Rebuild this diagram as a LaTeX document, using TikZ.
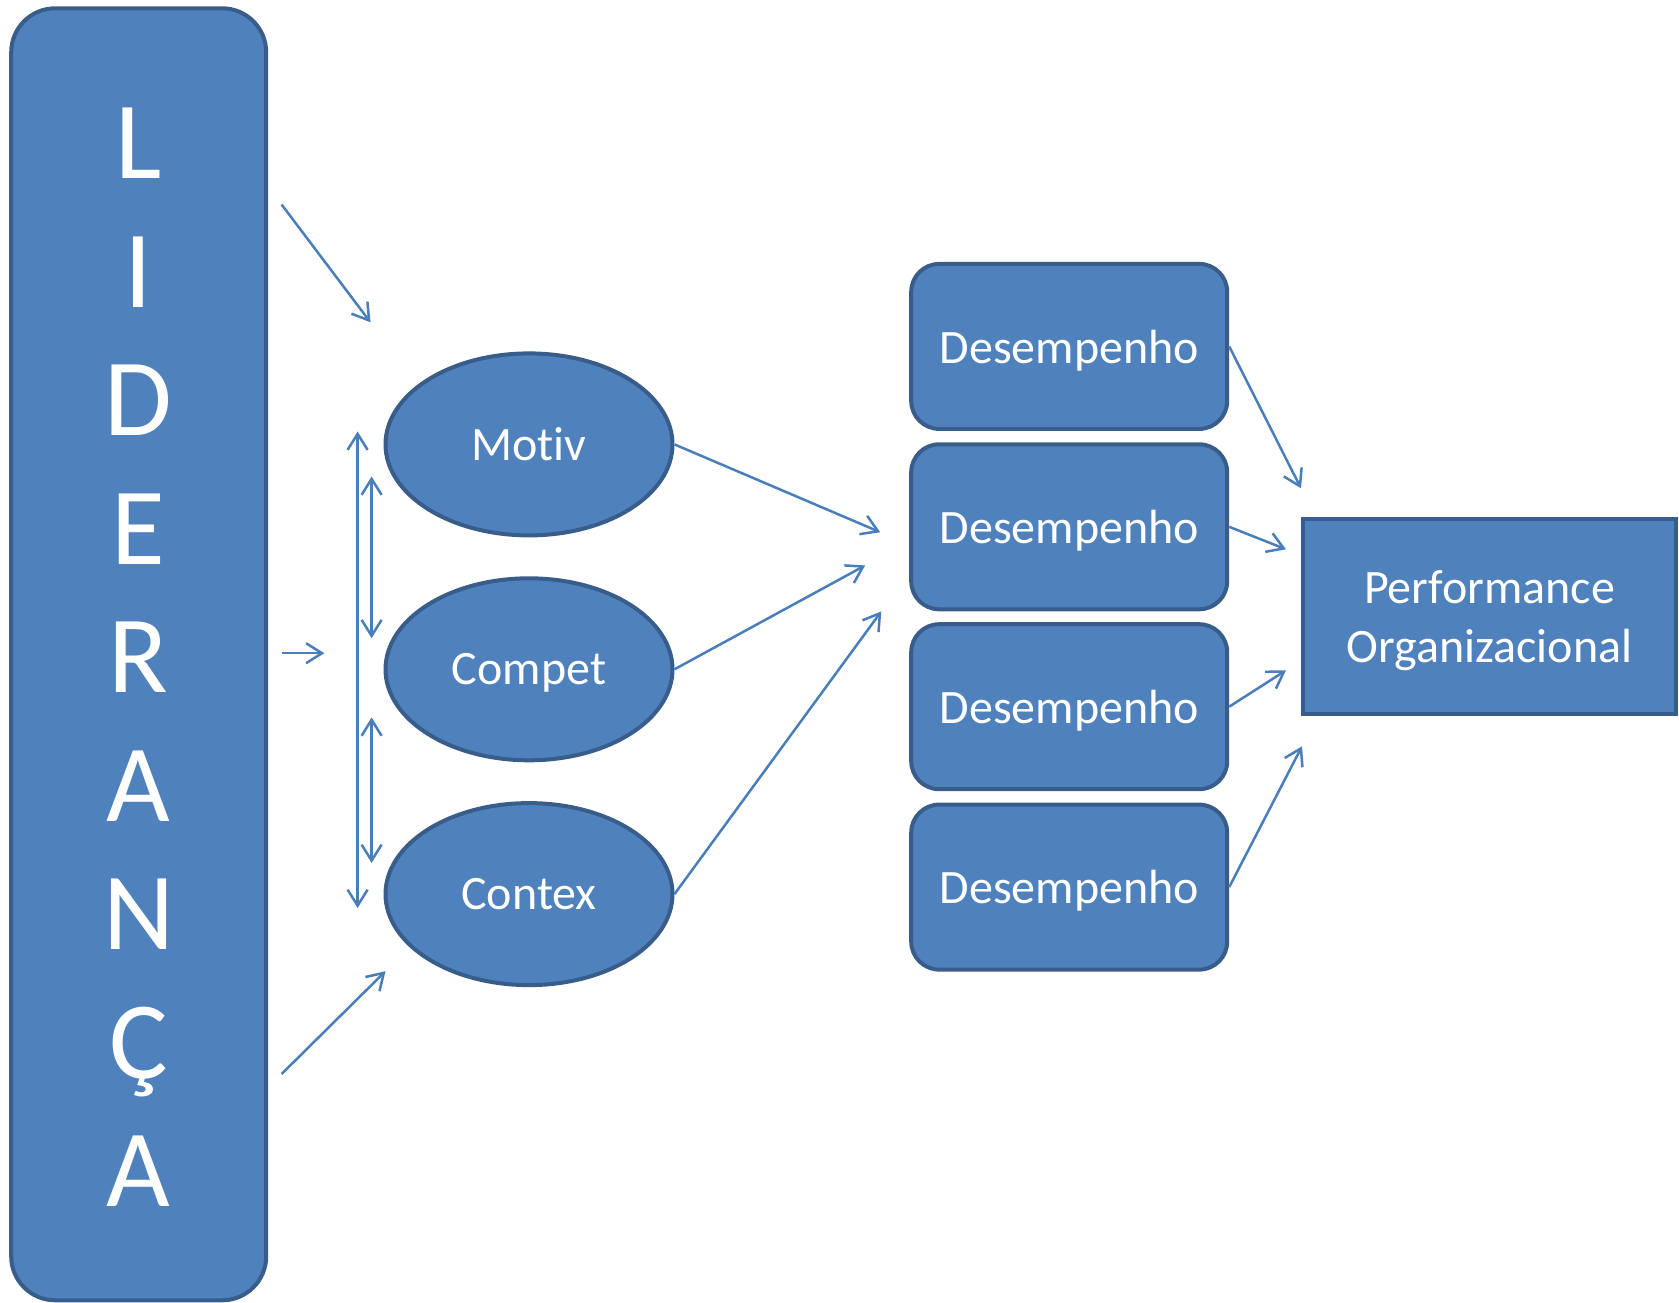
\documentclass[tikz,border=0pt]{standalone}
\usepackage{fontspec}
\setmainfont{Carlito}[Ligatures=NoCommon]
\usetikzlibrary{shapes.geometric,arrows.meta}
\definecolor{fillblue}{HTML}{4F81BD}
\definecolor{edgeblue}{HTML}{385D8A}
\definecolor{arrowblue}{HTML}{4A7EBB}
\begin{document}
\begin{tikzpicture}[x=1pt,y=-1pt,
 shapebase/.style={fill=fillblue, draw=edgeblue, line width=4pt, text=white, inner sep=0pt},
 lidbox/.style={shapebase, rounded corners=44pt, minimum width=255pt, minimum height=1292pt, align=center, font=\fontsize{110}{128.5}\selectfont},
 ovalnode/.style={shapebase, ellipse, minimum width=287pt, minimum height=182pt, text depth=0pt, font=\fontsize{48}{58}\selectfont},
 desbox/.style={shapebase, rounded corners=28pt, minimum width=316pt, minimum height=165pt, text depth=0pt, font=\fontsize{48}{58}\selectfont},
 perfbox/.style={shapebase, minimum width=373pt, minimum height=195pt, align=center, font=\fontsize{48}{59}\selectfont},
 tipb/.tip={Straight Barb[length=16pt,width=20pt]},
 conn/.style={draw=arrowblue, line width=2.5pt, -tipb},
 dconn/.style={draw=arrowblue, line width=2.5pt, tipb-tipb}
]
\useasboundingbox (0,0) rectangle (1679,1302);

% nodes
\node[lidbox] (lid) at (138.7,654.3) {\raisebox{-3pt}[\height][\depth]{\parbox{200pt}{\centering L\\I\\D\\E\\R\\A\\N\\Ç\\A}}};
\node[ovalnode] (motiv) at (529,444.4) {Motiv};
\node[ovalnode] (compet) at (529,669.3) {Compet};
\node[ovalnode] (contex) at (529,894.1) {Contex};
\node[desbox] (d1) at (1069.2,346.4) {Desempenho};
\node[desbox] (d2) at (1069.2,526.8) {Desempenho};
\node[desbox] (d3) at (1069.2,706.7) {Desempenho};
\node[desbox] (d4) at (1069.2,887.1) {Desempenho};
\node[perfbox] (perf) at (1489.5,616.5) {\raisebox{-4pt}[\height][\depth]{\parbox{360pt}{\centering Performance\\Organizacional}}};

% free ends
\coordinate (a1s) at (281.6,204.5);
\coordinate (a1e) at (370.5,322.3);
\coordinate (a2s) at (281.6,653.2);
\coordinate (a2e) at (324.4,653.2);
\coordinate (a3s) at (281.6,1074);
\coordinate (a3e) at (385.5,971.2);
\coordinate (lt) at (357.6,431.5);
\coordinate (lb) at (357.6,908);
\coordinate (s1t) at (371.6,476.5);
\coordinate (s1b) at (371.6,638.2);
\coordinate (s2t) at (371.6,717.4);
\coordinate (s2b) at (371.6,863);
\coordinate (m1) at (880.2,532.2);
\coordinate (m2) at (865.2,565.4);
\coordinate (m3) at (881.3,611.4);
\coordinate (p1) at (1301,488.3);
\coordinate (p2) at (1286,549.3);
\coordinate (p3) at (1286,670.3);
\coordinate (p4) at (1302,746.3);

% connectors
\draw[conn] (a1s) -- (a1e);
\draw[conn] (a2s) -- (a2e);
\draw[conn] (a3s) -- (a3e);
\draw[dconn] (lt) -- (lb);
\draw[dconn] (s1t) -- (s1b);
\draw[dconn] (s2t) -- (s2b);
\draw[conn] (motiv.east) -- (m1);
\draw[conn] (compet.east) -- (m2);
\draw[conn] (contex.east) -- (m3);
\draw[conn] (d1.east) -- (p1);
\draw[conn] (d2.east) -- (p2);
\draw[conn] (d3.east) -- (p3);
\draw[conn] (d4.east) -- (p4);
\end{tikzpicture}
\end{document}
